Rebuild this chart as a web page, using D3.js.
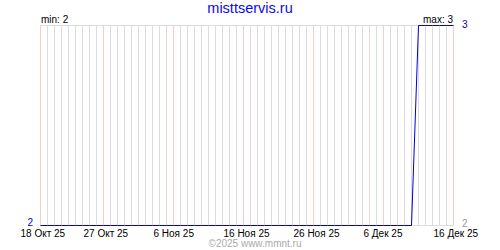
<html>
<head>
<script src="https://d3js.org/d3.v7.min.js"></script>
<style>
body { margin: 0; background: #fff; }
svg text { font-family: "Liberation Sans", Arial, sans-serif; font-size: 10px; }
</style>
</head>
<body>
<svg id="chart"></svg>
<script>
// data: one value per day, 18 Oct 2025 .. 16 Dec 2025
var startDay = "2025-10-18";
var endDay = "2025-12-16";
var dailyValues = [
  2,2,2,2,2,2,2,2,2,2,
  2,2,2,2,2,2,2,2,2,2,
  2,2,2,2,2,2,2,2,2,2,
  2,2,2,2,2,2,2,2,2,2,
  2,2,2,2,2,2,2,2,2,2,
  2,2,2,2,3,3,3,3,3,3
];
var tickDates = ["2025-10-18","2025-10-27","2025-11-06","2025-11-16","2025-11-26","2025-12-06","2025-12-16"];
var tickLabels = ["18 Окт 25","27 Окт 25","6 Ноя 25","16 Ноя 25","26 Ноя 25","6 Дек 25","16 Дек 25"];
var title = "misttservis.ru";
var footer = "©2025 www.mmnt.ru";

var parse = d3.utcParse("%Y-%m-%d");
var t0 = parse(startDay), t1 = parse(endDay);
var days = d3.utcDay.range(t0, d3.utcDay.offset(t1, 1));
var data = days.map(function(d, i) { return { date: d, value: dailyValues[i] }; });

var svg = d3.select("#chart").attr("width", 500).attr("height", 250);

var x = d3.scaleUtc().domain([t0, t1]).range([40.5, 453.5]);
var y = d3.scaleLinear().domain([2, 3]).range([225.5, 25.5]);
var vmin = d3.min(dailyValues), vmax = d3.max(dailyValues);

// day gridlines
svg.append("g").selectAll("line")
  .data(days)
  .enter().append("line")
  .attr("x1", function(d) { return x(d); })
  .attr("x2", function(d) { return x(d); })
  .attr("y1", y(3)).attr("y2", y(2))
  .attr("stroke", "#dcdcdc");

// top / bottom frame lines
svg.append("g").selectAll("line")
  .data([2, 3])
  .enter().append("line")
  .attr("x1", x(t0)).attr("x2", x(t1))
  .attr("y1", function(d) { return y(d); })
  .attr("y2", function(d) { return y(d); })
  .attr("stroke", "#dcdcdc");

// labelled ticks (red lines)
var ticks = tickDates.map(function(s, i) { return { date: parse(s), label: tickLabels[i] }; });
svg.append("g").selectAll("line")
  .data(ticks)
  .enter().append("line")
  .attr("x1", function(d) { return x(d.date); })
  .attr("x2", function(d) { return x(d.date); })
  .attr("y1", y(3)).attr("y2", y(2))
  .attr("stroke", "#ffc8c8");

svg.append("g").selectAll("text")
  .data(ticks)
  .enter().append("text")
  .attr("x", function(d) { return x(d.date) - 20; })
  .attr("y", 237)
  .attr("fill", "#000")
  .text(function(d) { return d.label; });

// series
var line = d3.line()
  .x(function(d) { return x(d.date); })
  .y(function(d) { return y(d.value); });
svg.append("path")
  .datum(data)
  .attr("d", line)
  .attr("fill", "none")
  .attr("stroke", "#0000dd")
  .attr("stroke-width", 1);

// titles and labels
svg.append("text")
  .attr("x", 250).attr("y", 13)
  .attr("text-anchor", "middle")
  .style("font-size", "14.5px")
  .attr("fill", "#0a0af0")
  .text(title);

svg.append("text")
  .attr("x", 41).attr("y", 23)
  .text("min: " + vmin);
svg.append("text")
  .attr("x", 453).attr("y", 23)
  .attr("text-anchor", "end")
  .text("max: " + vmax);

svg.append("text")
  .attr("x", 33).attr("y", y(2) + 0.5)
  .attr("text-anchor", "end")
  .attr("fill", "#0000dd")
  .text(vmin);
svg.append("text")
  .attr("x", 462).attr("y", y(3) + 2.5)
  .attr("fill", "#0000dd")
  .text(vmax);
svg.append("text")
  .attr("x", 462).attr("y", y(2) + 1)
  .attr("fill", "#999")
  .text(vmin);

svg.append("text")
  .attr("x", 255).attr("y", 247)
  .attr("text-anchor", "middle")
  .attr("fill", "#aaa")
  .text(footer);
</script>
</body>
</html>
